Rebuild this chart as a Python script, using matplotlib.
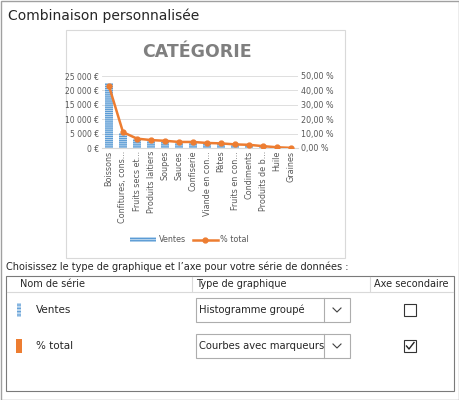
import matplotlib.pyplot as plt
from matplotlib.patches import Rectangle

categories = ["Boissons", "Confitures, cons...", "Fruits secs et...", "Produits laitiers", "Soupes",
              "Sauces", "Confiserie", "Viande en con...", "Pâtes", "Fruits en con...",
              "Condiments", "Produits de b...", "Huile", "Graines"]
ventes = [22500, 5200, 3200, 2500, 2200, 1900, 1800, 1500, 1300, 1100, 900, 600, 300, 100]
pct_total = [43.0, 11.0, 6.5, 5.5, 5.0, 4.2, 4.2, 3.5, 3.2, 2.5, 2.2, 1.3, 0.5, 0.1]
yticks_left = ["0 €", "5 000 €", "10 000 €", "15 000 €", "20 000 €", "25 000 €"]
yticks_right = ["0,00 %", "10,00 %", "20,00 %", "30,00 %", "40,00 %", "50,00 %"]

W, H = 460, 400
fig = plt.figure(figsize=(4.6, 4.0), dpi=100)
plt.rcParams["hatch.linewidth"] = 0.8
bg = fig.add_axes([0, 0, 1, 1])
bg.set_xlim(0, W); bg.set_ylim(H, 0); bg.axis("off")
txt = "#262626"
blue = "#5b9bd5"; orange = "#ed7d31"; lightblue = "#bdd7ee"

bg.add_patch(Rectangle((0.5, 0.5), W - 1, H - 1, fill=False, ec="#a0a0a0", lw=1))
bg.text(8, 16, "Combinaison personnalisée", fontsize=10, color=txt, va="center")
bg.add_patch(Rectangle((66, 30), 279, 228, fill=False, ec="#d9d9d9", lw=0.8))
bg.text(197, 52, "CATÉGORIE", fontsize=12.5, color="#7f7f7f", weight="bold",
        ha="center", va="center")

# chart
def fx(px): return px / W
def fy(py): return 1 - py / H
ax = fig.add_axes([fx(102), fy(148), fx(298) - fx(102), fy(76) - fy(148)])
x = range(len(categories))
ax.bar(x, ventes, width=0.6, color=lightblue, edgecolor=blue, hatch="--------", lw=0)
ax.set_ylim(0, 25000)
ax.set_xlim(-0.5, len(categories) - 0.5)
ax.set_yticks(range(0, 25001, 5000), yticks_left, fontsize=5.5, color="#595959")
ax.set_xticks(list(x), categories, rotation=90, fontsize=5.8, color="#595959")
ax.tick_params(length=0, pad=2)
ax.grid(axis="y", color="#d9d9d9", lw=0.6)
ax.set_axisbelow(True)
for s in ax.spines.values(): s.set_visible(False)
ax.spines["bottom"].set_visible(True); ax.spines["bottom"].set_color("#d9d9d9")
ax2 = ax.twinx()
ax2.plot(list(x), pct_total, color=orange, lw=1.8, marker="o", ms=3.5)
ax2.set_ylim(0, 50)
ax2.set_yticks(range(0, 51, 10), yticks_right, fontsize=5.8, color="#595959")
ax2.tick_params(length=0, pad=2)
for s in ax2.spines.values(): s.set_visible(False)

# legend
bg.add_patch(Rectangle((130, 237), 26, 5, fc=lightblue, ec=blue, hatch="--------", lw=0))
bg.text(159, 240, "Ventes", fontsize=5.8, color="#595959", va="center")
bg.plot([193, 218], [240, 240], color=orange, lw=1.8)
bg.plot([205], [240], "o", color=orange, ms=3.5)
bg.text(220, 240, "% total", fontsize=5.8, color="#595959", va="center")

# series panel
bg.text(6, 267, "Choisissez le type de graphique et l’axe pour votre série de données :",
        fontsize=7, color=txt, va="center")
bg.add_patch(Rectangle((6, 276), 448, 115, fill=False, ec="#7a7a7a", lw=0.8))
bg.plot([7, 453], [292, 292], color="#d9d9d9", lw=0.8)
bg.plot([192, 192], [277, 291], color="#d9d9d9", lw=0.8)
bg.plot([370, 370], [277, 291], color="#d9d9d9", lw=0.8)
bg.text(20, 284, "Nom de série", fontsize=7, color=txt, va="center")
bg.text(196, 284, "Type de graphique", fontsize=7, color=txt, va="center")
bg.text(374, 284, "Axe secondaire", fontsize=7, color=txt, va="center")

rows = [(310, "Ventes", "Histogramme groupé", False), (346, "% total", "Courbes avec marqueurs", True)]
for y, name, kind, chk in rows:
    if chk:
        bg.add_patch(Rectangle((16, y - 7), 6, 14, fc=orange, ec="none"))
    else:
        bg.add_patch(Rectangle((17, y - 7), 4, 14, fc=lightblue, ec=blue, hatch="-----", lw=0))
    bg.text(36, y, name, fontsize=7.5, color=txt, va="center")
    bg.add_patch(Rectangle((196, y - 12), 154, 24, fc="white", ec="#adadad", lw=0.8))
    bg.plot([324, 324], [y - 12, y + 12], color="#adadad", lw=0.8)
    bg.plot([333, 337, 341], [y - 2, y + 2, y - 2], color="#404040", lw=0.8)
    bg.text(199, y, kind, fontsize=7.2, color=txt, va="center")
    bg.add_patch(Rectangle((404, y - 6), 12, 12, fc="white", ec="#333333", lw=0.8))
    if chk:
        bg.plot([406.5, 409, 414], [y, y + 3, y - 3.5], color="#222222", lw=1)

fig.savefig("out.png", dpi=100)
